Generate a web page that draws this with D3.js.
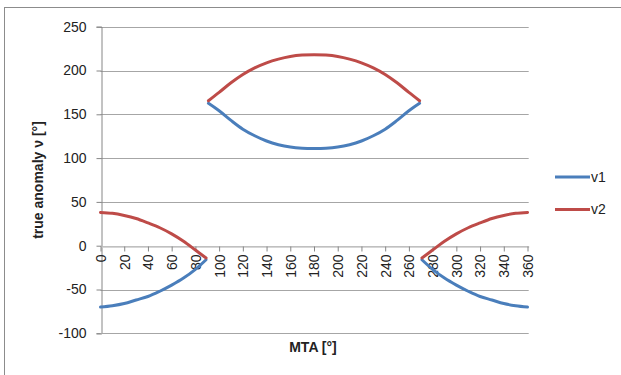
<!DOCTYPE html>
<html>
<head>
<meta charset="utf-8">
<script src="https://cdn.jsdelivr.net/npm/d3@7"></script>
<style>
  body { margin: 0; background: #fff; }
  text { font-family: "Liberation Sans", Arial, sans-serif; fill: #222; }
</style>
</head>
<body>
<div id="chart"></div>
<script>
// MTA values (degrees); gaps at 90 and 270
var mta = [0, 10, 20, 30, 40, 50, 60, 70, 80, 89,
           91, 100, 110, 120, 130, 140, 150, 160, 170, 180, 190, 200, 210, 220, 230, 240, 250, 260, 269,
           271, 280, 290, 300, 310, 320, 330, 340, 350, 360];
var v1 = [-70, -68.5, -66, -62, -58, -52, -45, -37, -27, -16,
          162.5, 154, 143, 133, 125.5, 119.5, 115.3, 112.6, 111.3, 111, 111.3, 112.6, 115.3, 119.5, 125.5, 133, 143, 154, 162.5,
          -16, -27, -37, -45, -52, -58, -62, -66, -68.5, -70];
var v2 = [38, 37, 34.5, 31, 26, 20.5, 13.5, 5, -5, -14,
          165.5, 175, 186, 195.5, 203, 208.8, 213, 216, 217.6, 218, 217.6, 216, 213, 208.8, 203, 195.5, 186, 175, 165.5,
          -14, -5, 5, 13.5, 20.5, 26, 31, 34.5, 37, 38];
var segBreaks = [90, 270];
var xTicks = d3.range(0, 361, 20);
var yTicks = [-100, -50, 0, 50, 100, 150, 200, 250];
var seriesNames = ["v1", "v2"];
var colors = ["#4A7EBB", "#BE4B48"];

var width = 621, height = 375;
var margin = {top: 26.7, right: 92.3, bottom: 41.7, left: 100.5};

var svg = d3.select("#chart").append("svg")
    .attr("width", width)
    .attr("height", height);

// chart border
svg.append("rect")
    .attr("x", 4.5).attr("y", 7.5)
    .attr("width", width).attr("height", height)
    .attr("fill", "none")
    .attr("stroke", "#8c8c8c")
    .attr("stroke-width", 1);

var x = d3.scaleLinear()
    .domain([0, 361])
    .range([margin.left, width - margin.right]);
var y = d3.scaleLinear()
    .domain([-100, 250])
    .range([height - margin.bottom, margin.top]);

// gridlines
svg.append("g").selectAll("line")
    .data(yTicks.filter(function(d) { return d !== -100; }))
    .enter().append("line")
    .attr("x1", x(0)).attr("x2", x(361))
    .attr("y1", function(d) { return Math.round(y(d)) + 0.5; })
    .attr("y2", function(d) { return Math.round(y(d)) + 0.5; })
    .attr("stroke", "#a6a6a6");

// y axis
var yAxis = svg.append("g")
    .attr("transform", "translate(" + (Math.round(x(0)) + 0.5) + ",0)")
    .call(d3.axisLeft(y).tickValues(yTicks).tickFormat(String).tickSize(5).tickPadding(10));
yAxis.select(".domain").attr("stroke", "#868686");
yAxis.selectAll(".tick line").attr("stroke", "#868686");
yAxis.selectAll(".tick text")
    .style("font-family", "Liberation Sans, Arial, sans-serif")
    .style("font-size", "14px").attr("fill", "#222");

// bottom line of the plot (at -100)
svg.append("line")
    .attr("x1", x(0)).attr("x2", x(361))
    .attr("y1", Math.round(y(-100)) + 0.5).attr("y2", Math.round(y(-100)) + 0.5)
    .attr("stroke", "#a6a6a6");

// x axis crossing at 0
var xAxis = svg.append("g")
    .attr("transform", "translate(0," + (Math.round(y(0)) + 0.5) + ")")
    .call(d3.axisBottom(x).tickValues(xTicks).tickFormat(String).tickSize(5).tickSizeOuter(0));
xAxis.select(".domain").attr("stroke", "#c8c8c8").attr("stroke-width", 1.5);
xAxis.selectAll(".tick line").attr("stroke", "#868686");
xAxis.selectAll(".tick text")
    .style("font-family", "Liberation Sans, Arial, sans-serif")
    .style("font-size", "14px").attr("fill", "#222")
    .attr("text-anchor", "end")
    .attr("transform", "rotate(-90)")
    .attr("x", -8).attr("y", 0).attr("dy", "0.35em");

// split into segments at the discontinuities
function segments(vals) {
  var segs = [[], [], []];
  mta.forEach(function(m, i) {
    var k = m < segBreaks[0] ? 0 : (m < segBreaks[1] ? 1 : 2);
    segs[k].push([m, vals[i]]);
  });
  return segs;
}

var line = d3.line()
    .x(function(d) { return x(d[0]); })
    .y(function(d) { return y(d[1]); })
    .curve(d3.curveCatmullRom);

[v1, v2].forEach(function(vals, si) {
  svg.append("g").selectAll("path")
      .data(segments(vals))
      .enter().append("path")
      .attr("d", line)
      .attr("fill", "none")
      .attr("stroke", colors[si])
      .attr("stroke-width", 3)
      .attr("stroke-linecap", "round");
});

// axis titles
svg.append("text")
    .attr("transform", "translate(43," + y(75) + ") rotate(-90)")
    .attr("text-anchor", "middle")
    .style("font-size", "14px").style("font-weight", "bold")
    .text("true anomaly ν [°]");

svg.append("text")
    .attr("x", 313).attr("y", 352)
    .attr("text-anchor", "middle")
    .style("font-size", "14px").style("font-weight", "bold")
    .text("MTA [°]");

// legend
var legend = svg.append("g").selectAll("g")
    .data(seriesNames)
    .enter().append("g")
    .attr("transform", function(d, i) { return "translate(555," + (177 + i * 32.5) + ")"; });
legend.append("line")
    .attr("x1", 0).attr("x2", 35)
    .attr("stroke", function(d, i) { return colors[i]; })
    .attr("stroke-width", 3);
legend.append("text")
    .attr("x", 36).attr("dy", "0.35em")
    .style("font-size", "14px")
    .text(function(d) { return d; });
</script>
</body>
</html>
